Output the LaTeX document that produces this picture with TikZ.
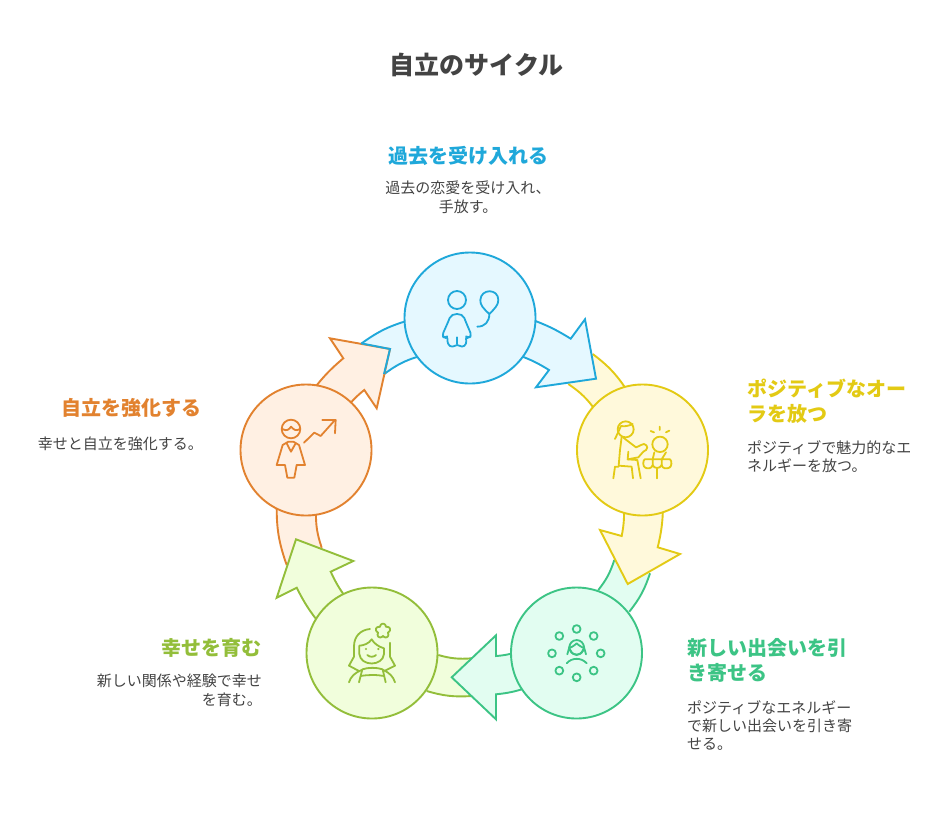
\documentclass[tikz,border=0pt]{standalone}
\usepackage{fontspec}
\setmainfont{Noto Sans CJK JP}
\definecolor{cA}{HTML}{1FA8DA}\definecolor{fA}{HTML}{E5F8FF}
\definecolor{cB}{HTML}{E3CA14}\definecolor{fB}{HTML}{FFF9DB}
\definecolor{cC}{HTML}{3CC485}\definecolor{fC}{HTML}{E2FDF1}
\definecolor{cD}{HTML}{93BE3A}\definecolor{fD}{HTML}{F1FEDC}
\definecolor{cE}{HTML}{E2822F}\definecolor{fE}{HTML}{FFF0E3}
\definecolor{ink}{HTML}{434343}
\newcommand{\ringband}[6]{%
  \fill[#2] #3 to[bend left=10] #4 -- #6 to[bend right=10] #5 -- cycle;
  \draw[#1,shapeline] #3 to[bend left=10] #4;
  \draw[#1,shapeline] #5 to[bend left=10] #6;}
\newcommand{\ringhead}[9]{%
  \draw[#1,fill=#2,shapeline,line join=miter] #3 to[bend left=6] #4 -- #5 -- #6 -- #7 -- #8 to[bend right=6] #9 -- cycle;}
\tikzset{
  shapeline/.style={line width=1.9pt},
  icon/.style={line width=1.8pt,line cap=round,line join=round},
  bubble/.style={circle,draw,line width=1.9pt,minimum size=131pt,inner sep=0pt},
  headtext/.style={font=\fontsize{20}{25}\selectfont\bfseries,inner sep=0pt},
  bodytext/.style={font=\fontsize{15}{18.3}\selectfont,text=ink,inner sep=0pt},
}
\begin{document}
\begin{tikzpicture}[x=1pt,y=-1pt]
\useasboundingbox[fill=white] (0,0) rectangle (949,828);
% tails
\ringband{cA}{fA}{(361.7,343.3)}{(410,320)}{(384.3,374)}{(420,356)}
\ringband{cB}{fB}{(592.7,354)}{(628,392)}{(568.3,384)}{(596,411)}
\ringband{cC}{fC}{(650,573.3)}{(629.3,611.7)}{(614.3,560)}{(598.3,590)}
\ringband{cD}{fD}{(471.7,696)}{(426.7,691)}{(471.7,658.3)}{(438.3,655)}
\ringband{cE}{fE}{(286.7,565)}{(276.7,505)}{(321.7,547.7)}{(316,510)}
% heads
\ringhead{cA}{fA}{(530,319)}{(570.7,338.7)}{(585,319.3)}{(596,378.7)}{(536,387.3)}{(549,370)}{(518,355)}
\ringhead{cB}{fB}{(663,507)}{(657.7,547.3)}{(680,554)}{(627.7,584)}{(600,530)}{(621.7,536)}{(624,508)}
\ringhead{cC}{fC}{(526,688)}{(496,694.3)}{(496,719.3)}{(451.7,677.3)}{(496,635.3)}{(496,656)}{(516,652.3)}
\ringhead{cD}{fD}{(320,624)}{(296.7,587.7)}{(276.7,597.7)}{(296,539.3)}{(353.3,561)}{(330.7,571.7)}{(347,599)}
\ringhead{cE}{fE}{(313,390)}{(343.3,358.3)}{(330,338.3)}{(390,349)}{(376.7,408.3)}{(364.3,390)}{(348,406)}
\draw[cA,shapeline,line join=miter] (361,343.3) -- (390,349) -- (384,374);
% circles
\node[bubble,draw=cA,fill=fA] (a) at (470,318) {};
\node[bubble,draw=cB,fill=fB] (b) at (642.5,450) {};
\node[bubble,draw=cC,fill=fC] (c) at (576.5,653) {};
\node[bubble,draw=cD,fill=fD] (d) at (372,653) {};
\node[bubble,draw=cE,fill=fE] (e) at (306,450) {};
% icon A
\begin{scope}[shift={(340,240)},x=0.3333pt,y=-0.3333pt,cA,icon]
\draw (351,180) circle[radius=9pt];
\draw[rounded corners=3pt] (306,287) -- (326,242) .. controls (335,218) and (367,218) .. (376,242) -- (395,287) -- (385,295) -- (377,288) -- (380,312) -- (366,323) -- (352,312) -- (337,323) -- (322,312) -- (323,288) -- (315,295) -- cycle;
\draw (352,312) -- (352,292);
\draw (448,222) .. controls (430,205) and (420,195) .. (421,180) .. controls (423,145) and (475,145) .. (475,180) .. controls (475,195) and (465,205) .. (448,222);
\draw (448,222) .. controls (448,245) and (435,260) .. (412,260);
\end{scope}
% icon B
\begin{scope}[shift={(560,370)},x=0.3333pt,y=-0.3333pt,cB,icon]
\draw (197,178) circle[radius=8pt];
\draw (165,207) -- (183,168) .. controls (195,170) and (205,168) .. (218,162);
\draw (185,200) -- (180,240) -- (176,287) -- (215,290) -- (219,325);
\draw (176,290) -- (165,290) -- (160,325);
\draw (190,203) -- (228,232) .. controls (240,228) and (245,222) .. (252,222) .. controls (265,225) and (265,240) .. (250,245) -- (235,262) -- (203,268) -- (205,245);
\draw (203,268) -- (232,270) -- (242,325);
\draw (300,223) circle[radius=7.7pt];
\draw (272,183) -- (282,187) (299,170) -- (299,180) (318,187) -- (328,182);
\draw (283,247) -- (278,268) -- (278,285) .. controls (276,296) and (262,297) .. (256,293) .. controls (248,290) and (248,272) .. (254,268) -- (330,268) .. controls (336,272) and (336,290) .. (328,293) .. controls (320,297) and (306,296) .. (305,285) -- (305,268) -- (318,247);
\draw (278,285) .. controls (282,297) and (300,297) .. (305,285);
\draw (291,295) -- (291,325);
\end{scope}
% icon C
\begin{scope}[shift={(420,560)},x=0.3333pt,y=-0.3333pt,cC,icon]
\foreach \p in {(470,207),(521,228),(542,280),(521,332),(470,352),(418,332),(396,280),(418,228)}
  \draw \p circle[radius=3.9pt];
\draw (470,262) circle[radius=7.3pt];
\draw (448,264) .. controls (455,262) and (465,255) .. (470,250) .. controls (475,255) and (485,262) .. (492,264);
\draw (442,283) -- (449,258) (498,283) -- (491,258);
\draw (450,268) .. controls (455,280) and (462,285) .. (470,285) .. controls (478,285) and (485,280) .. (490,268);
\draw (440,310) .. controls (455,292) and (485,292) .. (500,310);
\end{scope}
% icon D
\begin{scope}[shift={(230,500)},x=0.3333pt,y=-0.3333pt,cD,icon]
\draw plot[samples=73,domain=0:360] ({459+(15+7*abs(cos(2.5*(\x+90))))*cos(\x)},{393+(15+7*abs(cos(2.5*(\x+90))))*sin(\x)}) -- cycle;
\draw (420,387) .. controls (390,390) and (372,410) .. (372,440) -- (372,470) -- (357,497) -- (385,512);
\draw (480,428) -- (480,470) -- (495,497) -- (465,512);
\draw (388,437) -- (388,462) .. controls (392,500) and (458,500) .. (462,462) -- (462,445) .. controls (445,440) and (432,430) .. (425,418) .. controls (418,430) and (400,437) .. (388,437);
\fill (408,447) circle[radius=1.2pt] (445,447) circle[radius=1.2pt];
\draw (412,465) .. controls (418,472) and (432,472) .. (438,465);
\draw (357,547) .. controls (362,530) and (375,518) .. (395,510);
\draw (495,547) .. controls (490,530) and (478,518) .. (460,510);
\draw (387,547) -- (397,508) .. controls (415,502) and (440,502) .. (458,508) -- (467,547);
\draw (392,528) .. controls (415,524) and (440,524) .. (462,528);
\end{scope}
% icon E
\begin{scope}[shift={(230,330)},x=0.3333pt,y=-0.3333pt,cE,icon]
\draw (183,297) circle[radius=9.3pt];
\draw (157,297) .. controls (170,305) and (178,298) .. (183,290) .. controls (190,298) and (198,305) .. (210,297);
\draw (140,405) -- (158,345) -- (175,335) -- (190,335) -- (207,345) -- (225,405) -- (200,405) -- (193,443) -- (172,443) -- (165,405) -- cycle;
\draw (170,340) -- (183,365) -- (197,340);
\draw (222,338) -- (253,308) -- (272,318) -- (315,270);
\draw (277,270) -- (317,270) -- (315,310);
\end{scope}
% texts
\node[font=\fontsize{25}{30}\selectfont\bfseries,text=ink,inner sep=0pt] (title) at (476.5,64.5) {自立のサイクル};
\node[headtext,text=cA,anchor=center] (ha) at (468,155.5) {過去を受け入れる};
\node[bodytext,align=center,anchor=north] (ta) at (468,181) {\rule{0pt}{12pt}過去の恋愛を受け入れ、\\手放す。};
\node[headtext,text=cB,align=left,anchor=north west] (hb) at (747,379) {\rule{0pt}{16pt}ポジティブなオー\\ラを放つ};
\node[bodytext,align=left,anchor=north west] (tb) at (747,440) {\rule{0pt}{12pt}ポジティブで魅力的なエ\\ネルギーを放つ。};
\node[headtext,text=cC,align=left,anchor=north west] (hc) at (687,638) {\rule{0pt}{16pt}新しい出会いを引\\き寄せる};
\node[bodytext,align=left,anchor=north west] (tc) at (687,700) {\rule{0pt}{12pt}ポジティブなエネルギー\\で新しい出会いを引き寄\\せる。};
\node[headtext,text=cD,anchor=east] (hd) at (262,647.5) {幸せを育む};
\node[bodytext,align=right,anchor=north east] (td) at (262,674) {\rule{0pt}{12pt}新しい関係や経験で幸せ\\を育む。};
\node[headtext,text=cE,anchor=east] (he) at (202,407.5) {自立を強化する};
\node[bodytext,anchor=east] (te) at (203,443.5) {幸せと自立を強化する。};
\end{tikzpicture}
\end{document}
